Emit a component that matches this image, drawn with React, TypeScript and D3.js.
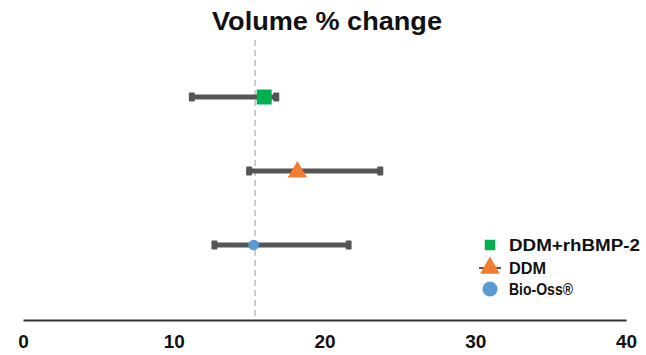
import React, { useEffect, useRef } from 'react';
import * as d3 from 'd3';

const groups = ['DDM+rhBMP-2', 'DDM', 'Bio-Oss®'];
const means = [16.0, 18.2, 15.3];
const lows = [11.2, 15.0, 12.7];
const highs = [16.8, 23.7, 21.6];
const refValue = 15.4;
const xTicks = [0, 10, 20, 30, 40];
const colors = ['#00b050', '#f47c30', '#5b9bd5'];

const App: React.FC = () => {
  const chartRef = useRef<SVGSVGElement | null>(null);

  useEffect(() => {
    const width = 646;
    const height = 355;
    const svg = d3.select(chartRef.current);
    svg.selectAll('*').remove();
    svg.attr('width', width).attr('height', height);

    const font = 'Arial, "Liberation Sans", sans-serif';

    const x = d3.scaleLinear().domain([0, 40]).range([23, 626]);
    const y = d3.scalePoint<string>().domain(groups).range([97, 245]);

    svg
      .append('text')
      .attr('x', 327)
      .attr('y', 30)
      .attr('text-anchor', 'middle')
      .attr('font-family', font)
      .attr('font-weight', 'bold')
      .attr('font-size', 25)
      .attr('textLength', 230)
      .attr('lengthAdjust', 'spacingAndGlyphs')
      .attr('fill', '#111')
      .text('Volume % change');

    // reference line
    svg
      .append('line')
      .attr('x1', x(refValue))
      .attr('x2', x(refValue))
      .attr('y1', 40)
      .attr('y2', 318)
      .attr('stroke', '#c0c0c0')
      .attr('stroke-width', 1.5)
      .attr('stroke-dasharray', '6,4');

    // x axis
    const axis = svg
      .append('g')
      .attr('transform', 'translate(0,320)')
      .call(d3.axisBottom(x).tickValues(xTicks).tickSize(0).tickPadding(15));
    axis.select('.domain').attr('stroke', '#333').attr('stroke-width', 2);
    axis
      .selectAll('text')
      .attr('font-family', font)
      .attr('font-weight', 'bold')
      .attr('font-size', 19)
      .attr('fill', '#111');

    const data = groups.map((g, i) => ({ g, mean: means[i], lo: lows[i], hi: highs[i], color: colors[i] }));

    const bars = svg.append('g');
    bars
      .selectAll('line')
      .data(data)
      .join('line')
      .attr('x1', (d) => x(d.lo))
      .attr('x2', (d) => x(d.hi))
      .attr('y1', (d) => y(d.g)!)
      .attr('y2', (d) => y(d.g)!)
      .attr('stroke', '#555')
      .attr('stroke-width', 5);
    data.forEach((d) => {
      [d.lo, d.hi].forEach((v) => {
        bars
          .append('rect')
          .attr('x', x(v) - 3)
          .attr('y', y(d.g)! - 4.5)
          .attr('width', 6)
          .attr('height', 9)
          .attr('rx', 1)
          .attr('fill', '#555');
      });
    });

    const symbols = [d3.symbolSquare, d3.symbolTriangle, d3.symbolCircle];
    const sizes = [225, 160, 90];
    const marks = svg.append('g');
    data.forEach((d, i) => {
      marks
        .append('path')
        .attr('d', d3.symbol().type(symbols[i]).size(sizes[i])()!)
        .attr('transform', `translate(${x(d.mean)},${y(d.g)! + (i === 1 ? 1 : 0)})`)
        .attr('fill', d.color);
    });

    // legend
    const legendY = [245, 268, 289];
    const legendW = [131, 37, 64];
    const legend = svg.append('g');
    groups.forEach((g, i) => {
      const ly = legendY[i];
      if (i === 1) {
        legend
          .append('line')
          .attr('x1', 479)
          .attr('x2', 501)
          .attr('y1', ly)
          .attr('y2', ly)
          .attr('stroke', '#555')
          .attr('stroke-width', 2);
      }
      legend
        .append('path')
        .attr('d', d3.symbol().type(symbols[i]).size([110, 170, 180][i])()!)
        .attr('transform', `translate(490,${ly})`)
        .attr('fill', colors[i]);
      legend
        .append('text')
        .attr('x', 509)
        .attr('y', ly + 6)
        .attr('font-family', font)
        .attr('font-weight', 'bold')
        .attr('font-size', 16)
        .attr('textLength', legendW[i])
        .attr('lengthAdjust', 'spacingAndGlyphs')
        .attr('fill', '#111')
        .text(g);
    });
  }, []);

  return (
    <div>
      <svg
        ref={chartRef}
        style={{ display: 'block', position: 'absolute', left: 0, top: 0, overflow: 'visible' }}
      ></svg>
    </div>
  );
};

export default App;
